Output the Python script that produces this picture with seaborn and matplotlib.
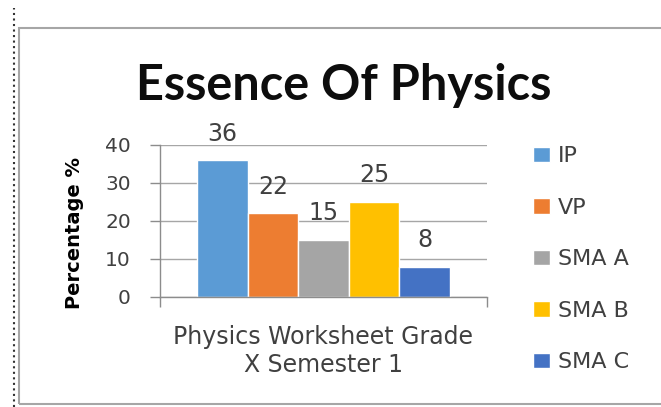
import numpy as np
import pandas as pd
import matplotlib
matplotlib.use("Agg")
import matplotlib.pyplot as plt
from matplotlib.lines import Line2D
from matplotlib.patches import Rectangle
import seaborn as sns

# data
groups = ['IP', 'VP', 'SMA A', 'SMA B', 'SMA C']
values = [36, 22, 15, 25, 8]
category = 'Physics Worksheet Grade\nX Semester 1'
colors = ['#5B9BD5', '#ED7D31', '#A5A5A5', '#FFC000', '#4472C4']

df = pd.DataFrame({'cat': [category] * len(groups), 'group': groups, 'val': values})

sns.set_theme(style='white')
plt.rcParams['font.family'] = ['DejaVu Sans']

fig = plt.figure(figsize=(6.61, 4.07), dpi=100)
ax = fig.add_axes([0.242, 0.2703, 0.495, 0.3735])

sns.barplot(data=df, x='cat', y='val', hue='group', palette=colors,
            width=0.772, gap=0, dodge=True, ax=ax, saturation=1, legend=True)

for c in ax.containers:
    ax.bar_label(c, fmt='%d', padding=10.5, fontsize=17, color='#404040')

ax.set_xlim(-0.5, 0.5)
ax.set_ylim(0, 40)
ax.set_yticks([0, 10, 20, 30, 40])
ax.yaxis.grid(True, color='#A6A6A6', linewidth=1)
ax.set_axisbelow(True)
ax.set_xticks([-0.5, 0.5])
ax.set_xticklabels(['', ''])
ax.tick_params(axis='x', direction='out', length=7, color='#8C8C8C', width=1, bottom=True)
ax.tick_params(axis='y', direction='out', length=7, color='#8C8C8C', width=1, left=True,
               labelsize=14.5, labelcolor='#404040', pad=14)
for s in ['top', 'right']:
    ax.spines[s].set_visible(False)
for s in ['left', 'bottom']:
    ax.spines[s].set_color('#8C8C8C')
    ax.spines[s].set_linewidth(1)

ax.set_xlabel('')
ax.set_ylabel('')
fig.text(75 / 661, 1 - 233 / 407, 'Percentage %', rotation=90, ha='center', va='center',
         fontsize=14, fontweight='bold', color='black')
fig.text(323 / 661, 1 - 351 / 407, category, ha='center', va='center', fontsize=17,
         color='#404040', linespacing=1.25)

fig.text(344 / 661, 1 - 85 / 407, 'Essence Of Physics', ha='center', va='center',
         fontsize=35, fontweight='bold', color='#0D0D0D', family=['Lato', 'DejaVu Sans'])

handles, labels = ax.get_legend_handles_labels()
ax.legend(handles, labels, loc='upper left', bbox_to_anchor=(0.807, 0.641),
          bbox_transform=fig.transFigure, frameon=False, fontsize=16,
          handlelength=0.75, handleheight=0.7, handletextpad=0.35,
          labelspacing=1.42, labelcolor='#404040', borderaxespad=0, borderpad=0)

# chart frame and dotted border
fig.add_artist(Rectangle((19 / 661, 3 / 407), 700 / 661, 376 / 407,
                         transform=fig.transFigure, fill=False,
                         edgecolor='#A6A6A6', linewidth=1.5))
fig.add_artist(Line2D([14 / 661, 14 / 661], [0, 399 / 407], transform=fig.transFigure,
                      color='#333333', linestyle=':', linewidth=1.5))

fig.savefig('out.png', dpi=100)
